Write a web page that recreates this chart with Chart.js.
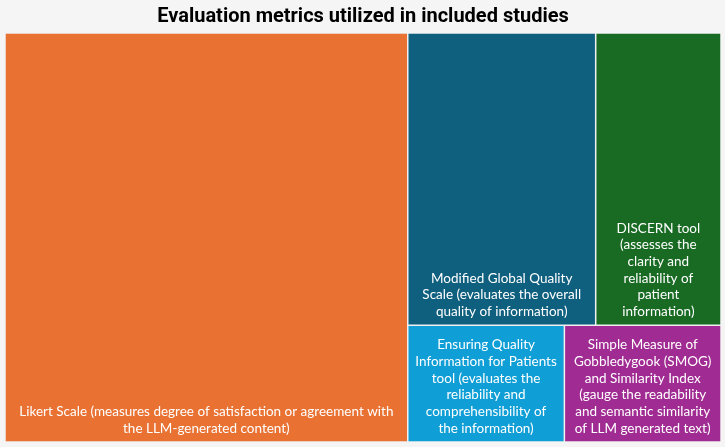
<!DOCTYPE html>
<html>
<head>
<meta charset="utf-8">
<script src="https://cdn.jsdelivr.net/npm/chart.js@4.4.0/dist/chart.umd.min.js"></script>
<style>
  body { margin: 0; background: #f5f5f5; }
  #wrap { width: 725px; height: 447px; position: relative; }
</style>
</head>
<body>
<div id="wrap"><canvas id="treeChart"></canvas></div>
<script>
// Evaluation metrics (number of studies using each)
const categories = [
  "Likert Scale",
  "Modified Global Quality Scale",
  "DISCERN tool",
  "Ensuring Quality Information for Patients tool",
  "SMOG and Similarity Index"
];
const studyCounts = [9, 3, 2, 1, 1];
const cellLabels = [
  ["Likert Scale (measures degree of satisfaction or agreement with", "the LLM-generated content)"],
  ["Modified Global Quality", "Scale (evaluates the overall", "quality of information)"],
  ["DISCERN tool", "(assesses the", "clarity and", "reliability of", "patient", "information)"],
  ["Ensuring Quality", "Information for Patients", "tool (evaluates the", "reliability and", "comprehensibility of", "the information)"],
  ["Simple Measure of", "Gobbledygook (SMOG)", "and Similarity Index", "(gauge the readability", "and semantic similarity", "of LLM generated text)"]
];
const cellColors = ["#E97132", "#0F5F7F", "#196B24", "#0F9ED5", "#A02B93"];

// split a list in two by cumulative value, cut along the longer side
function splitCells(items, r, k, out) {
  if (items.length === 1) { out[items[0].i] = r; return; }
  const total = items.reduce((s, d) => s + d.v, 0);
  let acc = 0, cut = 0;
  for (cut = 0; cut < items.length - 1; cut++) {
    acc += items[cut].v;
    if (acc >= total / 2) break;
  }
  const a = items.slice(0, cut + 1), b = items.slice(cut + 1);
  const f = a.reduce((s, d) => s + d.v, 0) / total;
  if ((r.x1 - r.x0) * k >= (r.y1 - r.y0)) {
    const xm = r.x0 + (r.x1 - r.x0) * f;
    splitCells(a, { x0: r.x0, y0: r.y0, x1: xm, y1: r.y1 }, k, out);
    splitCells(b, { x0: xm, y0: r.y0, x1: r.x1, y1: r.y1 }, k, out);
  } else {
    const ym = r.y0 + (r.y1 - r.y0) * f;
    splitCells(a, { x0: r.x0, y0: r.y0, x1: r.x1, y1: ym }, k, out);
    splitCells(b, { x0: r.x0, y0: ym, x1: r.x1, y1: r.y1 }, k, out);
  }
}

class TreemapController extends Chart.DatasetController {
  update(mode) {
    const meta = this._cachedMeta;
    this.updateElements(meta.data, 0, meta.data.length, mode);
  }
  updateElements(rects, start, count, mode) {
    const xs = this._cachedMeta.xScale, ys = this._cachedMeta.yScale;
    const area = this.chart.chartArea;
    const k = (area.width / (xs.max - xs.min)) / (area.height / (ys.max - ys.min));
    const values = this.getDataset().data;
    const cells = [];
    splitCells(values.map((v, i) => ({ v, i })),
      { x0: xs.min, y0: ys.min, x1: xs.max, y1: ys.max }, k, cells);
    for (let i = start; i < start + count; i++) {
      const c = cells[i];
      const left = xs.getPixelForValue(c.x0), right = xs.getPixelForValue(c.x1);
      const top = ys.getPixelForValue(c.y0), bottom = ys.getPixelForValue(c.y1);
      this.updateElement(rects[i], i, {
        x: (left + right) / 2,
        y: top,
        base: bottom,
        width: right - left,
        horizontal: false,
        inflateAmount: 0,
        borderSkipped: {},
        options: this.resolveDataElementOptions(i, mode)
      }, mode);
    }
  }
  draw() {
    super.draw();
    const ctx = this.chart.ctx;
    const lines = this.getDataset().labelLines;
    ctx.save();
    ctx.fillStyle = "#ffffff";
    ctx.font = "13.5px Lato";
    ctx.textAlign = "center";
    ctx.textBaseline = "middle";
    this._cachedMeta.data.forEach((el, i) => {
      const t = lines[i];
      const cx = el.x, bottom = Math.max(el.y, el.base);
      t.forEach((s, j) => {
        ctx.fillText(s, cx, bottom - 13.5 - (t.length - 1 - j) * 16.7);
      });
    });
    ctx.restore();
  }
}
TreemapController.id = "treemap";
TreemapController.defaults = { datasetElementType: false, dataElementType: "bar" };
Chart.register(TreemapController);

new Chart(document.getElementById("treeChart"), {
  type: "treemap",
  data: {
    labels: categories,
    datasets: [{
      data: studyCounts,
      labelLines: cellLabels,
      backgroundColor: cellColors,
      borderColor: "#eeeeee",
      borderWidth: 0.75,
      borderSkipped: false
    }]
  },
  options: {
    responsive: true,
    maintainAspectRatio: false,
    animation: false,
    events: [],
    layout: { padding: { left: 5, right: 4, top: 0, bottom: 5 } },
    scales: {
      x: { type: "linear", min: 0, max: 100, display: false },
      y: { type: "linear", min: 0, max: 100, reverse: true, display: false }
    },
    plugins: {
      legend: { display: false },
      tooltip: { enabled: false },
      title: {
        display: true,
        text: "Evaluation metrics utilized in included studies",
        color: "#000000",
        font: { family: "Roboto", size: 20, weight: "bold" },
        padding: { top: 5, bottom: 4 }
      }
    }
  }
});
</script>
</body>
</html>
